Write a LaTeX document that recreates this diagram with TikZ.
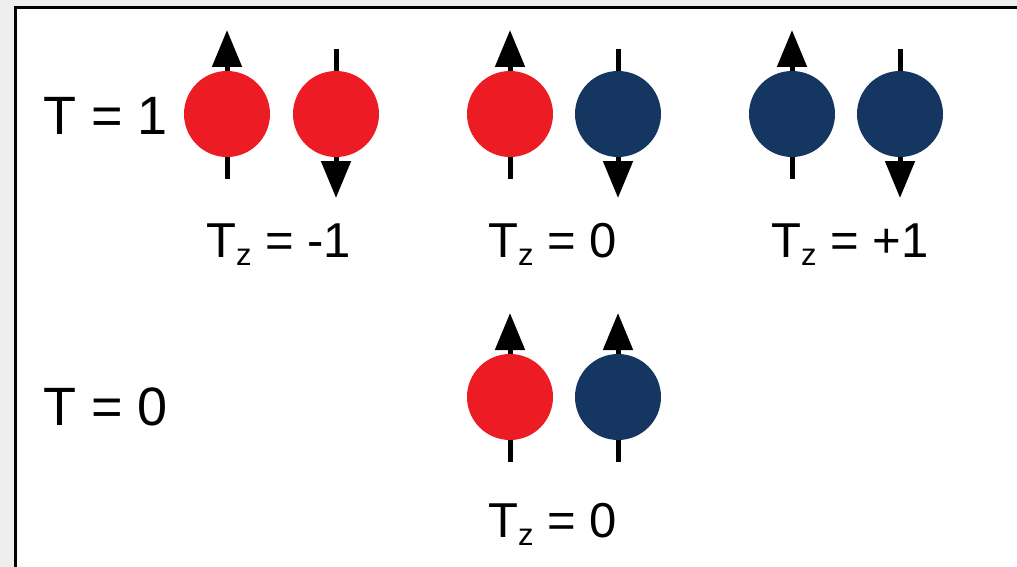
\documentclass[tikz,border=0pt]{standalone}
\usepackage{fontspec}
\setmainfont{Liberation Sans}
\usepackage{xcolor}
\usepackage{tikz}
\usetikzlibrary{arrows.meta}
\definecolor{bggray}{RGB}{238,238,238}
\definecolor{protonred}{RGB}{237,28,36}
\definecolor{neutronblue}{RGB}{20,54,96}

\begin{document}
\begin{tikzpicture}[x=1pt,y=-1pt,
  nucleon/.style={circle,fill=#1,minimum size=86pt,inner sep=0pt},
  spinarrow/.style={line width=5pt,-{Triangle[length=37pt,width=29pt]}},
  label/.style={anchor=base west,inner sep=0pt,font=\fontsize{54}{54}\selectfont},
  tzlabel/.style={anchor=base west,inner sep=0pt,font=\fontsize{49}{49}\selectfont}]
\newcommand{\spin}[5]{%
  % #1 name, #2 x, #3 y, #4 colour, #5 = 1 up, -1 down
  \coordinate (#1-tail) at (#2,{#3+65*#5});
  \coordinate (#1-tip) at (#2,{#3-84*#5});
  \draw[spinarrow] (#1-tail) -- (#1-tip);
  \node[nucleon=#4] (#1) at (#2,#3) {};
}
\newcommand{\Tz}[1]{T\raisebox{-8pt}{\fontsize{31}{31}\selectfont z} = #1}
\fill[bggray] (0,0) rectangle (1017,567);
\useasboundingbox (0,0) rectangle (1017,567);
\clip (0,0) rectangle (1017,567);
\draw[line width=2.8pt,fill=white] (15.5,7.5) rectangle (1040,590);

% T = 1 triplet
\node[label] (tone) at (43,135) {T = 1};
\spin{pa}{227}{114}{protonred}{1}
\spin{pb}{336}{114}{protonred}{-1}
\spin{pc}{510}{114}{protonred}{1}
\spin{nc}{618}{114}{neutronblue}{-1}
\spin{nd}{792}{114}{neutronblue}{1}
\spin{ne}{900}{114}{neutronblue}{-1}
\node[tzlabel] (tzm) at (206,257) {\Tz{-1}};
\node[tzlabel] (tzz) at (488,257) {\Tz{0}};
\node[tzlabel] (tzp) at (771,257) {\Tz{+1}};

% T = 0 singlet
\node[label] (tzero) at (43,425) {T = 0};
\spin{ps}{510}{397}{protonred}{1}
\spin{ns}{618}{397}{neutronblue}{1}
\node[tzlabel] (tzs) at (488,537) {\Tz{0}};
\end{tikzpicture}
\end{document}
